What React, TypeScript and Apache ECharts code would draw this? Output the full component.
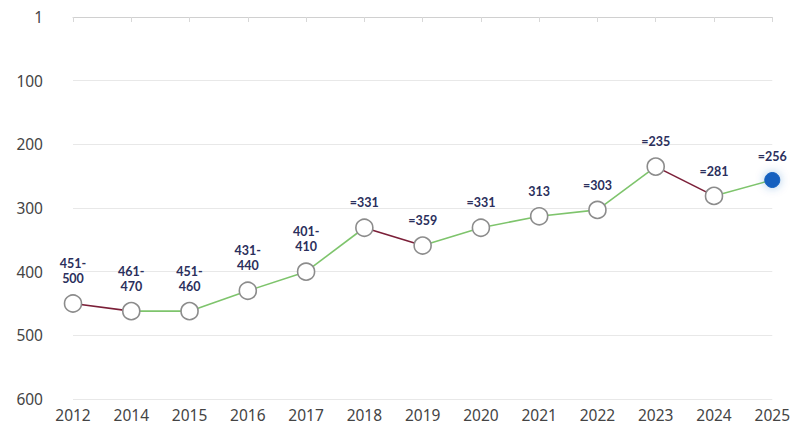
import React, { useEffect, useRef } from "react";
import * as echarts from "echarts";

const years = ["2012", "2014", "2015", "2016", "2017", "2018", "2019", "2020", "2021", "2022", "2023", "2024", "2025"];
const ranks = [450, 462, 462, 430, 400, 331, 359, 331, 313, 303, 235, 281, 256];
const rankLabels = ["451-\n500", "461-\n470", "451-\n460", "431-\n440", "401-\n410", "=331", "=359", "=331", "313", "=303", "=235", "=281", "=256"];

const WORSE = "#7b1f38";
const BETTER = "#7ec46c";

export default function App() {
  const ref = useRef<HTMLDivElement>(null);
  useEffect(() => {
    if (!ref.current) return;
    const chart = echarts.init(ref.current, undefined, { renderer: "svg" });
    const segSeries: any[] = [];
    for (let i = 0; i < ranks.length - 1; i++) {
      const data = ranks.map((v, j) => (j === i || j === i + 1 ? v : null));
      segSeries.push({
        type: "line",
        data,
        symbol: "none",
        connectNulls: false,
        silent: true,
        z: 2,
        lineStyle: { width: 1.6, color: ranks[i + 1] > ranks[i] ? WORSE : BETTER },
      });
    }
    const last = ranks.length - 1;
    chart.setOption({
      animation: false,
      textStyle: { fontFamily: "Noto Sans" },
      grid: { left: 73, right: 5, top: 17, bottom: 32 },
      xAxis: {
        type: "category",
        data: years,
        boundaryGap: false,
        axisLine: { lineStyle: { color: "#d0d0d0" } },
        axisTick: { show: true, length: 5, lineStyle: { color: "#d8d8d8" } },
        axisLabel: { color: "#444", fontSize: 15.5, margin: 8 },
        splitLine: { show: false },
      },
      yAxis: {
        type: "value",
        inverse: true,
        min: 0,
        max: 600,
        interval: 100,
        axisLine: { show: false },
        axisTick: { show: false },
        axisLabel: {
          color: "#444",
          fontSize: 15.5,
          margin: 30,
          formatter: (v: number) => (v === 0 ? "1" : String(v)),
        },
        splitLine: { lineStyle: { color: "#e8e8e8", width: 1 } },
      },
      series: [
        ...segSeries,
        {
          type: "line",
          data: ranks.map((v, i) =>
            i === last
              ? {
                  value: v,
                  symbolSize: 15,
                  itemStyle: {
                    color: "#1461bf",
                    borderColor: "#1461bf",
                    borderWidth: 1,
                    shadowBlur: 10,
                    shadowColor: "rgba(20,97,191,0.35)",
                  },
                }
              : v
          ),
          lineStyle: { opacity: 0 },
          symbol: "circle",
          symbolSize: 17,
          showAllSymbol: true,
          z: 5,
          itemStyle: { color: "#ffffff", borderColor: "#8c8c8c", borderWidth: 1.6 },
          label: {
            show: true,
            position: "top",
            distance: 8,
            color: "#2b2f5c",
            fontFamily: "Lato",
            fontSize: 12.5,
            fontWeight: "bold",
            lineHeight: 15,
            formatter: (p: any) => rankLabels[p.dataIndex],
          },
        },
      ],
    });
    return () => chart.dispose();
  }, []);
  return <div ref={ref} style={{ width: 793, height: 431, marginTop: -8, marginLeft: -8 }} />;
}
